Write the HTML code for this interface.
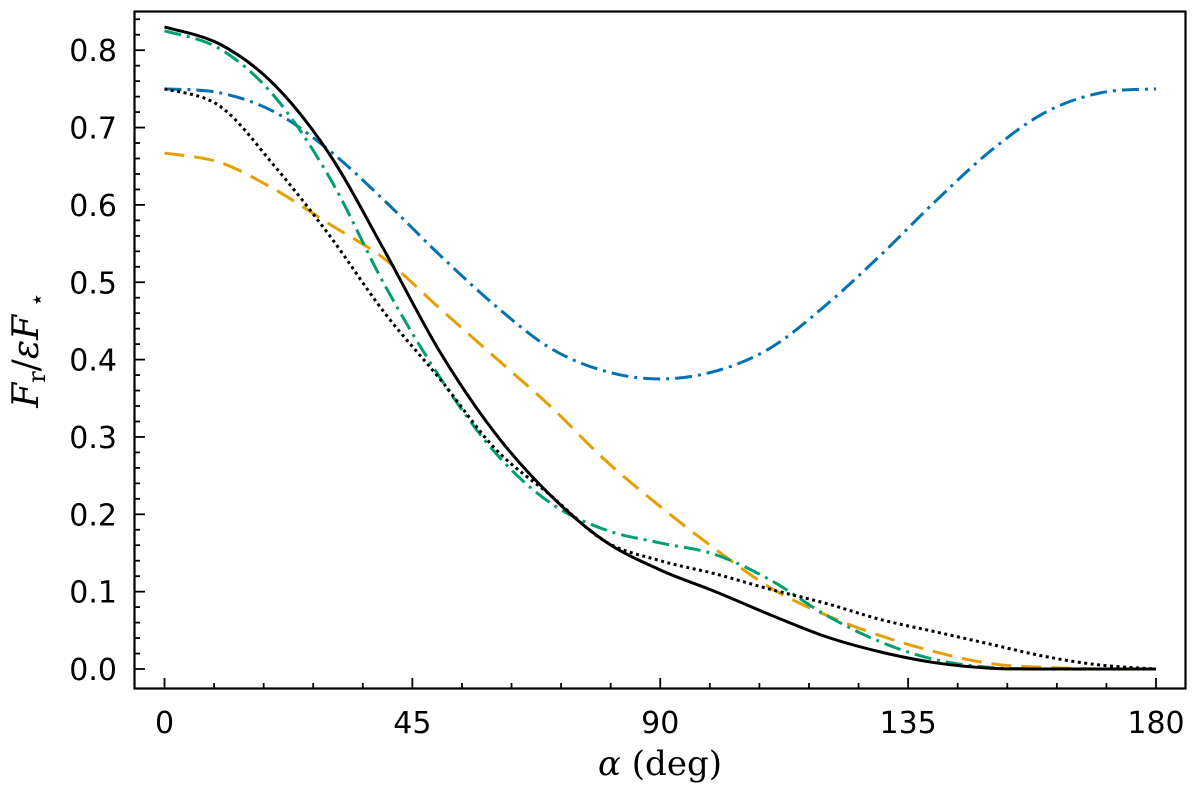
<!DOCTYPE html>
<html><head><meta charset="utf-8"><style>
body{margin:0;background:#fff;}
svg text{font-family:"DejaVu Sans","Liberation Sans",sans-serif;}
</style></head><body>
<svg id="chart" width="1200" height="793" viewBox="0 0 1200 793" xmlns="http://www.w3.org/2000/svg">
<g id="marks"></g>
<rect x="134.5" y="11.5" width="1051" height="677" fill="none" stroke="#000" stroke-width="2.2"/>
<g id="axes"></g>
<text x="660" y="775" text-anchor="middle" font-size="34" style="font-family:'DejaVu Serif','Liberation Serif',serif"><tspan font-style="italic">α</tspan> (deg)</text>
<text transform="translate(38,350) rotate(-90)" text-anchor="middle" font-size="36" style="font-family:'DejaVu Serif','Liberation Serif',serif"><tspan font-style="italic">F</tspan><tspan font-size="24" dy="7">r</tspan><tspan dy="-7">/</tspan><tspan font-style="italic">εF</tspan><tspan font-size="24" dy="7"> ⋆</tspan></text>
</svg>
<script>
const angles=[0,10,20,30,40,50,60,70,80,90,100,110,120,130,140,150,160,170,180];
const solidBlack=[0.83,0.808,0.755,0.665,0.54,0.41,0.305,0.225,0.165,0.128,0.1,0.07,0.042,0.022,0.008,0.001,0,0,0];
const dottedBlack=[0.75,0.728,0.65,0.56,0.46,0.375,0.285,0.225,0.165,0.14,0.123,0.103,0.085,0.064,0.048,0.032,0.016,0.005,0];
const blueDashDot=[0.75,0.745,0.72,0.67,0.605,0.535,0.47,0.415,0.385,0.375,0.385,0.415,0.47,0.535,0.605,0.67,0.72,0.745,0.75];
const orangeDashed=[0.667,0.655,0.62,0.575,0.53,0.466,0.403,0.34,0.27,0.21,0.155,0.105,0.07,0.043,0.022,0.007,0.002,0,0];
const greenDashDot=[0.825,0.802,0.74,0.635,0.496,0.377,0.28,0.215,0.18,0.163,0.148,0.115,0.07,0.035,0.012,0.002,0,0,0];
const xTicks=[0,45,90,135,180];
const yTicks=[0,0.1,0.2,0.3,0.4,0.5,0.6,0.7,0.8];
const NS="http://www.w3.org/2000/svg";
const X=v=>164.5+v*(1156-164.5)/180;
const Y=v=>669-v*773.5;
function pathFor(xs,ys){
  const p=xs.map((x,i)=>[X(x),Y(ys[i])]);
  let d=`M${p[0][0]},${p[0][1]}`;
  for(let i=0;i<p.length-1;i++){
    const p0=p[Math.max(0,i-1)],p1=p[i],p2=p[i+1],p3=p[Math.min(p.length-1,i+2)];
    const c1=[p1[0]+(p2[0]-p0[0])/6,p1[1]+(p2[1]-p0[1])/6];
    const c2=[p2[0]-(p3[0]-p1[0])/6,p2[1]-(p3[1]-p1[1])/6];
    d+=`C${c1[0]},${c1[1]} ${c2[0]},${c2[1]} ${p2[0]},${p2[1]}`;
  }
  return d;
}
const marks=document.getElementById('marks');
function addLine(ys,color,dash,name){
  const el=document.createElementNS(NS,'path');
  el.setAttribute('d',pathFor(angles,ys));
  el.setAttribute('fill','none');el.setAttribute('stroke',color);
  el.setAttribute('stroke-width','3');
  if(dash)el.setAttribute('stroke-dasharray',dash);
  
  
  marks.appendChild(el);
}
addLine(blueDashDot,'#0072b2','17,6,3,6','blue-dash-dot-series');
addLine(orangeDashed,'#e69f00','20,10','orange-dashed-series');
addLine(greenDashDot,'#009e73','17,6,3,6','green-dash-dot-series');
addLine(dottedBlack,'#000','3,3.5','black-dotted-series');
addLine(solidBlack,'#000',null,'black-solid-series');
const axes=document.getElementById('axes');
function tick(x1,y1,x2,y2){const l=document.createElementNS(NS,'line');
l.setAttribute('x1',x1);l.setAttribute('y1',y1);l.setAttribute('x2',x2);l.setAttribute('y2',y2);
l.setAttribute('stroke','#000');l.setAttribute('stroke-width','1.8');


axes.appendChild(l);}
function label(x,y,t,anchor,name){const e=document.createElementNS(NS,'text');
e.setAttribute('x',x);e.setAttribute('y',y);e.setAttribute('text-anchor',anchor);e.setAttribute('font-size','30');e.textContent=t;


axes.appendChild(e);}
for(let a=0;a<=180;a+=9){const big=a%45===0;tick(X(a),688,X(a),big?678:683);}
xTicks.forEach(t=>label(X(t),733,String(t),'middle','x-tick-label'));
for(let k=0;k<=42;k++){const v=k*0.02;const big=k%5===0;tick(135,Y(v),big?145:140,Y(v));}
yTicks.forEach(t=>label(117,Y(t)+11,t.toFixed(1),'end','y-tick-label'));
</script>
</body></html>
